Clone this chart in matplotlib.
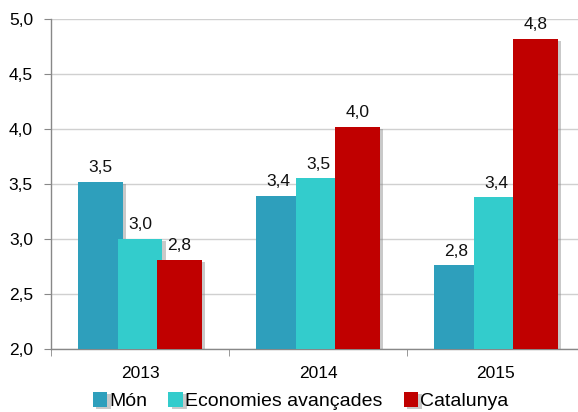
import numpy as np
import matplotlib
matplotlib.use("Agg")
import matplotlib.pyplot as plt
import matplotlib.patheffects as pe

plt.rcParams['font.family'] = ['Liberation Sans', 'DejaVu Sans']

anys = ['2013', '2014', '2015']
series = ['Món', 'Economies avançades', 'Catalunya']
mon = [3.52, 3.39, 2.76]
economies = [3.0, 3.55, 3.38]
catalunya = [2.81, 4.02, 4.82]
colors = ['#2E9FBC', '#33CCCC', '#C00000']

fig = plt.figure(figsize=(5.78, 4.12), dpi=100)
ax = fig.add_axes([0.0882, 0.153, 0.9238, 0.801])

x = np.arange(len(anys))
step = 0.222
width = 0.25
shadow = [pe.SimplePatchShadow(offset=(2.5, -1.5), shadow_rgbFace='#888888', alpha=0.45), pe.Normal()]

for i, (vals, name) in enumerate(zip([mon, economies, catalunya], series)):
    pos = x + (i - 1) * step
    bars = ax.bar(pos, np.array(vals) - 2.0, bottom=2.0, width=width, color=colors[i],
                  label=name, zorder=3 + i, path_effects=shadow)
    for xp, v in zip(pos, vals):
        ax.text(xp, v + 0.06, f"{v:.1f}".replace('.', ','), ha='center', va='bottom',
                fontsize=12.5, color='#111111', zorder=10)

ax.set_xlim(-0.5, 2.5)
ax.set_ylim(2.0, 5.0)
ax.set_yticks(np.arange(2.0, 5.01, 0.5))
ax.set_yticklabels([f"{t:.1f}".replace('.', ',') for t in np.arange(2.0, 5.01, 0.5)])
ax.set_xticks(x)
ax.set_xticklabels(anys)
ax.set_xticks([-0.5, 0.5, 1.5, 2.5], minor=True)
ax.tick_params(axis='x', which='major', length=0, pad=12, labelsize=12.5)
ax.tick_params(axis='x', which='minor', length=5, color='#888888')
ax.tick_params(axis='y', length=5, color='#888888', labelsize=12.5, pad=8)

ax.grid(axis='y', color='#D0D0D0', linewidth=1, zorder=0)
ax.set_axisbelow(True)
for s in ['top', 'right']:
    ax.spines[s].set_visible(False)
for s in ['left', 'bottom']:
    ax.spines[s].set_color('#888888')
    ax.spines[s].set_linewidth(1)

fig.legend(loc='center', bbox_to_anchor=(0.52, 0.026), ncol=3, frameon=False,
           fontsize=14, handlelength=0.75, handleheight=0.75, handletextpad=0.1,
           columnspacing=1.1, borderpad=0.1)

fig.savefig('out.png', dpi=100)
